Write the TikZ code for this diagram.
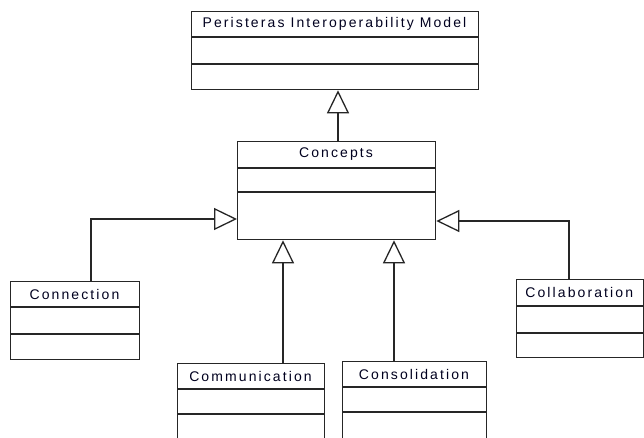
\documentclass[tikz,border=0pt]{standalone}
\usepackage{fontspec}
\setmainfont[LetterSpace=15]{Liberation Sans}
\usetikzlibrary{arrows.meta,calc}
\newcommand{\umlclass}[8]{%
  \node[clsbox, minimum width={#4-#2}, minimum height={#7-#3}, anchor=north west] (#1) at (#2,#3) {};
  \draw[clsline] (#2,#5) -- (#4,#5);
  \draw[clsline] (#2,#6) -- (#4,#6);
  \node[clslbl] (#1-name) at ({(#2+#4)/2},{(#3+#5)/2}) {#8};
}
\begin{document}
\begin{tikzpicture}[x=1pt,y=-1pt,
  clsbox/.style={draw=black!85, line width=1.3pt, inner sep=0pt, fill=none},
  clsline/.style={draw=black!85, line width=1.3pt},
  clslbl/.style={inner sep=0pt, font=\fontsize{14}{16}\selectfont, text=black!80!blue!60!black},
  gen/.style={draw=black!85, line width=1.3pt, -{Triangle[open, length=23pt, width=22pt]}}]
\useasboundingbox (0,0) rectangle (644,437);
\clip (0,0) rectangle (644,437);
\fill[white] (0,0) rectangle (644,437);
\umlclass{peri}{191}{11}{478}{37}{64}{89}{Peristeras Interoperability Model}
\umlclass{concepts}{237}{141}{435}{168}{192}{239}{Concepts}
\umlclass{connection}{10}{281}{139}{307}{334}{359}{Connection}
\umlclass{communication}{177}{363}{324}{389}{414}{460}{Communication}
\umlclass{consolidation}{342}{361}{486}{387}{412}{460}{Consolidation}
\umlclass{collaboration}{516}{279}{642.5}{306}{333}{357}{Collaboration}
\draw[gen] ($(concepts.north west)+(101,0)$) -- ($(peri.south west)+(147,0)$);
\draw[gen] ($(connection.north west)+(81,0)$) |- ($(concepts.north west)+(0,78)$);
\draw[gen] ($(collaboration.north west)+(53,0)$) |- ($(concepts.north east)+(0,80)$);
\draw[gen] ($(communication.north west)+(106,0)$) -- ($(concepts.south west)+(46,0)$);
\draw[gen] ($(consolidation.north west)+(52,0)$) -- ($(concepts.south west)+(157,0)$);
\end{tikzpicture}
\end{document}
